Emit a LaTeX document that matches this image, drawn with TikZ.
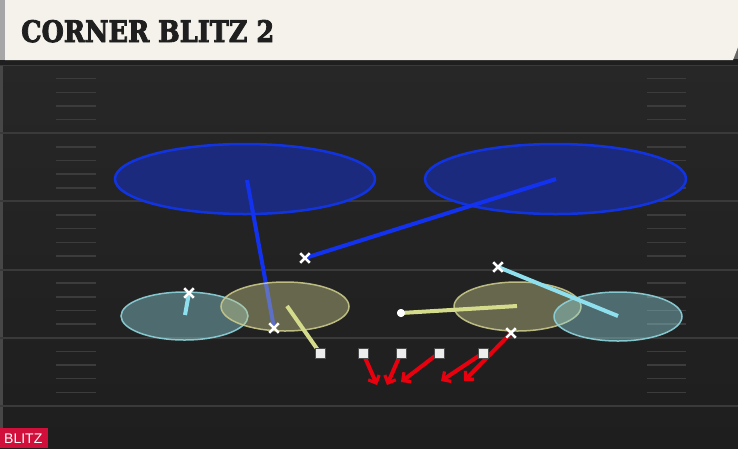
\documentclass[tikz,border=0pt]{standalone}
\usepackage{fontspec}
\setmainfont{DejaVu Serif}
\newfontfamily\titlefont{DejaVu Serif}[UprightFont={* Bold}, UprightFeatures={FakeBold=3}]
\newfontfamily\blitzfont{Liberation Sans}
\usetikzlibrary{arrows.meta,shapes.geometric,shapes.misc}
\definecolor{bgtop}{HTML}{272727}
\definecolor{bgbot}{HTML}{1E1E1E}
\definecolor{cream}{HTML}{F5F2EB}
\definecolor{yardc}{HTML}{3A3A3A}
\definecolor{hashc}{HTML}{3C3C3C}
\definecolor{zblue}{HTML}{1B2A7C}
\definecolor{zbluel}{HTML}{1234E0}
\definecolor{lblue}{HTML}{1232F0}
\definecolor{zcyan}{HTML}{8ED4DC}
\definecolor{zolive}{HTML}{C8C88A}
\definecolor{lyellow}{HTML}{D4DC8C}
\definecolor{lcyan}{HTML}{8EE0EE}
\definecolor{lred}{HTML}{E8000E}
\definecolor{blitzred}{HTML}{D0103A}
\tikzset{
  yard/.style={draw=yardc,line width=2pt},
  hashm/.style={draw=hashc,line width=1.5pt},
  bluezone/.style={ellipse,draw=zbluel,line width=2.5pt,fill=zblue,inner sep=0pt},
  cyanzone/.style={ellipse,draw=zcyan,line width=1.5pt,fill=zcyan,fill opacity=0.42,draw opacity=0.9,inner sep=0pt},
  olivezone/.style={ellipse,draw=zolive,line width=1.5pt,fill=zolive,fill opacity=0.42,draw opacity=0.9,inner sep=0pt},
  blueroute/.style={draw=lblue,line width=4pt},
  yroute/.style={draw=lyellow,line width=4pt},
  croute/.style={draw=lcyan,line width=4pt},
  rroute/.style={draw=lred,line width=4pt,-{Straight Barb[length=6pt,width=12pt,line width=3.2pt]}},
  xmark/.style={draw=white,line width=2.4pt,cross out,minimum size=7pt,inner sep=0pt},
  olin/.style={rectangle,fill=white!93!black,draw=black!70,line width=0.6pt,minimum size=10pt,inner sep=0pt},
  cen/.style={circle,fill=white,minimum size=8pt,inner sep=0pt},
}
\begin{document}
\begin{tikzpicture}[x=1pt,y=-1pt]
\useasboundingbox (0,0) rectangle (738,448);
% background
\fill[black!60] (0,0) rectangle (738,60);
\shade[top color=bgtop,bottom color=bgbot] (0,60) rectangle (738,448);
\fill[black!72] (0,60) rectangle (2.5,448);
% yard lines
\foreach \y in {65,133.2,201.4,269.6,337.8,406}
  \draw[yard] (0,\y) -- (738,\y);
% hash marks
\foreach \b in {65,133.2,201.4,269.6,337.8}
  \foreach \k in {1,2,3,4}{
    \draw[hashm] (56,\b+13.64*\k) -- (96,\b+13.64*\k);
    \draw[hashm] (647,\b+13.64*\k) -- (686,\b+13.64*\k);
  }
% title bar
\fill[black!88] (0,59) rectangle (738,65);
\fill[cream] (5,0) -- (738,0) -- (738,47) -- (733,60) -- (5,60) -- cycle;
\fill[black!35] (0,0) rectangle (5,60);
\node[anchor=base west,inner sep=0pt,text=black!88] (title) at (21,42)
  {\resizebox{253pt}{22pt}{\titlefont CORNER BLITZ 2}};
% deep zones
\node[bluezone,minimum width=260pt,minimum height=70pt] (bzl) at (245,179) {};
\node[bluezone,minimum width=261pt,minimum height=70pt] (bzr) at (555.5,179) {};
% blue routes
\coordinate (b1s) at (247,180);
\coordinate (b2e) at (556,179);
\node[xmark] (x1) at (274,328) {};
\node[xmark] (x2) at (305,258) {};
\draw[blueroute] (b1s) -- (x1.center);
\draw[blueroute] (x2.center) -- (b2e);
% underneath zones
\node[cyanzone,minimum width=127pt,minimum height=48pt] (czl) at (184.5,316) {};
\node[olivezone,minimum width=128pt,minimum height=49pt] (ozl) at (285,306.5) {};
\node[olivezone,minimum width=127pt,minimum height=49pt] (ozr) at (517.5,306.5) {};
\node[cyanzone,minimum width=128pt,minimum height=49pt] (czr) at (618,316.5) {};
% other defenders
\node[xmark] (x3) at (189,293) {};
\node[xmark] (x4) at (498,267) {};
\node[xmark] (x5) at (511,333) {};
\node[cen] (c) at (401,313) {};
% offensive line
\node[olin] (o1) at (320,353) {};
\node[olin] (o2) at (363,353) {};
\node[olin] (o3) at (401,353) {};
\node[olin] (o4) at (439,353) {};
\node[olin] (o5) at (483,353) {};
% route ends
\coordinate (c1e) at (185,315);
\coordinate (c2e) at (618,316);
\coordinate (y1s) at (287,306);
\coordinate (y2e) at (517,306);
\coordinate (r1) at (377,385);
\coordinate (r2) at (387,385);
\coordinate (r3) at (401,382);
\coordinate (r4) at (441,381);
\coordinate (r5) at (464,381);
% routes
\draw[croute] (x3.center) -- (c1e);
\draw[croute] (x4.center) -- (c2e);
\draw[yroute] (y1s) -- (o1.center);
\draw[yroute] (c.center) -- (y2e);
\draw[rroute] (o2.center) -- (r1);
\draw[rroute] (o3.center) -- (r2);
\draw[rroute] (o4.center) -- (r3);
\draw[rroute] (o5.center) -- (r4);
\draw[rroute] (x5.center) -- (r5);
% redraw marks on top
\node[olin] at (o1) {};
\node[olin] at (o2) {};
\node[olin] at (o3) {};
\node[olin] at (o4) {};
\node[olin] at (o5) {};
\node[xmark] at (x1) {};
\node[xmark] at (x2) {};
\node[xmark] at (x3) {};
\node[xmark] at (x4) {};
\node[xmark] at (x5) {};
\node[cen] at (c) {};
% blitz tag
\fill[blitzred] (0,428) rectangle (48,448);
\node[anchor=base west,inner sep=0pt,text=white,font=\blitzfont\fontsize{14}{14}\selectfont] (blitz) at (4,443.5) {BLITZ};
\end{tikzpicture}
\end{document}
